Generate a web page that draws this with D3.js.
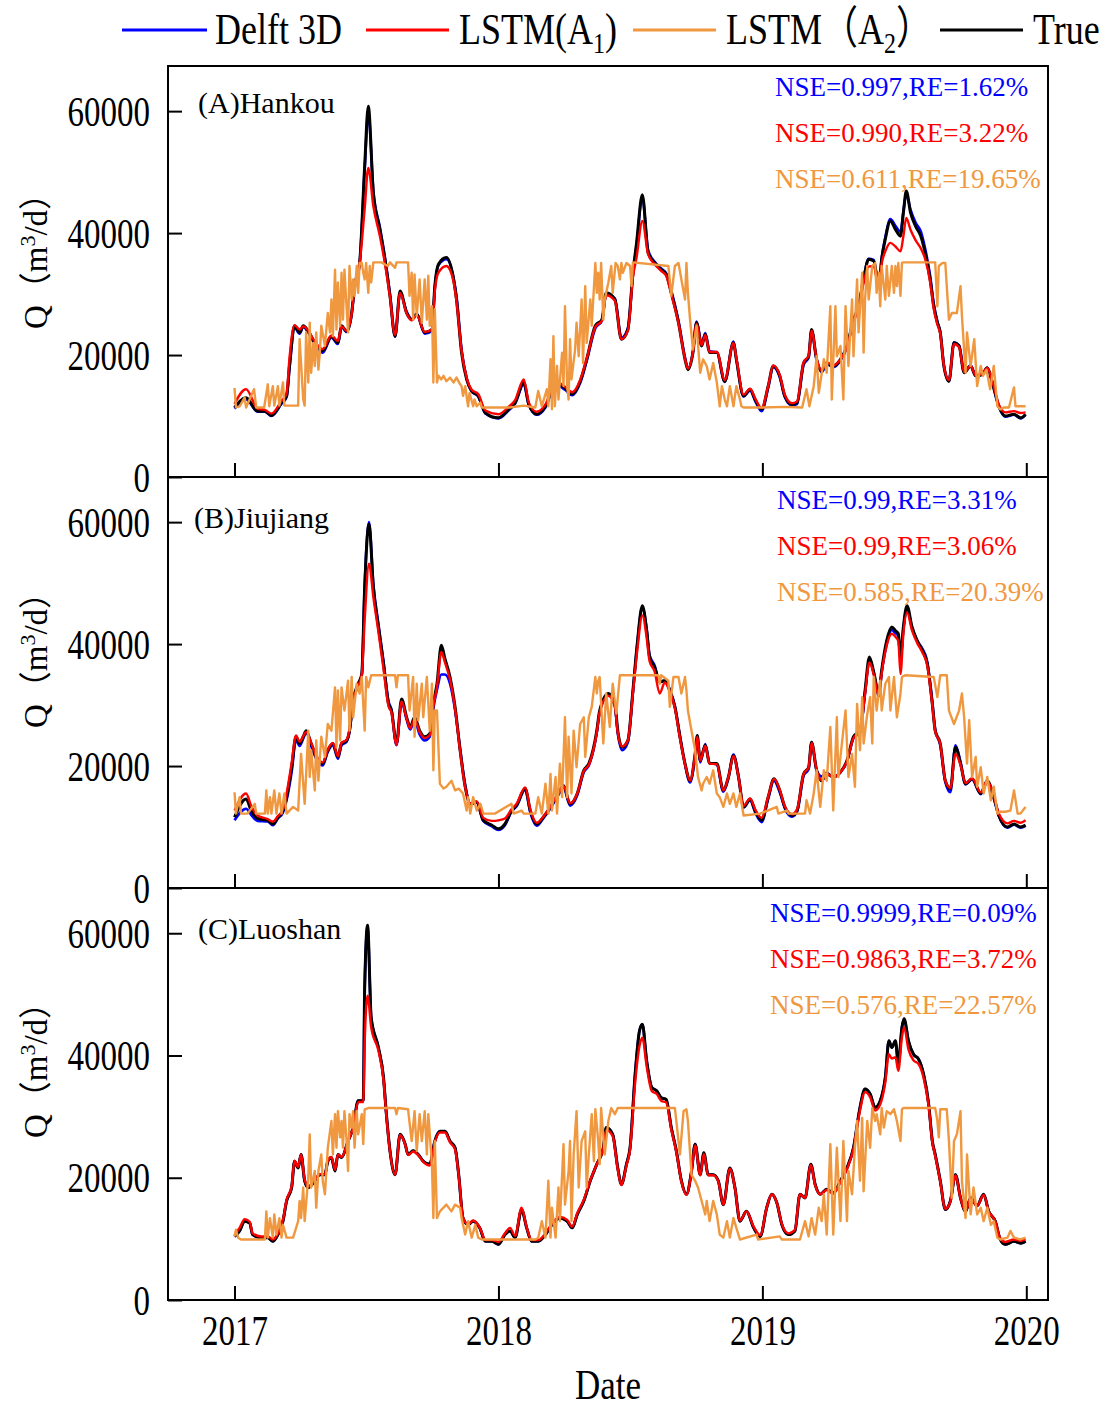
<!DOCTYPE html>
<html>
<head>
<meta charset="utf-8">
<script src="https://cdn.jsdelivr.net/npm/d3@7"></script>
<style>
  body { margin: 0; background: #fff; }
  svg { display: block; }
  text { font-family: "Liberation Serif", "Times New Roman", serif; fill: #000; }
  .cjk { font-family: "Liberation Serif", "Noto Sans CJK SC", serif; }
</style>
</head>
<body>
<svg id="chart" width="1112" height="1410"></svg>
<script>
// ---------------- data ----------------
// days are counted from 2017-01-01; discharge Q in m3/d
const years = [2017, 2018, 2019, 2020];
const yTicks = [0, 20000, 40000, 60000];
const legendNames = ["Delft 3D", "LSTM(A1)", "LSTM（A2）", "True"];

// Hankou
const hankouDays = [
  0,16,32,42,51,65,72,76,83,90,
  95,102,111,122,134,143,148,155,162,166,
  173,180,185,192,201,208,215,222,229,238,
  245,252,263,273,277,282,293,303,307,314,
  321,328,337,347,365,379,388,400,407,418,
  430,444,457,467,478,487,499,508,514,526,
  535,544,551,556,564,572,581,590,597,604,
  614,623,627,634,639,646,651,657,667,678,
  690,694,704,713,720,729,738,745,754,761,
  771,778,787,794,798,805,812,819,828,838,
  847,856,863,870,877,884,891,895,900,907,
  914,921,925,929,935,942,949,955,962,967,
  972,976,981,988,995,1002,1009,1018,1025,1034,
  1041,1048,1057,1066,1078,1087,1094];
const hankouTrue = [
  11400,13000,10800,10800,10100,12200,13300,18200,24800,23700,
  24800,23900,22000,20700,23100,22000,24800,23900,26900,31300,
  35100,51000,60800,46600,40600,35700,29700,23100,30500,26900,
  25800,26700,23700,24200,31300,34900,36000,32400,29100,20400,
  16000,14100,13300,10500,9700,11100,12200,15500,11900,10300,
  11600,15500,14600,13600,15700,19300,24800,25800,30200,29100,
  22600,24200,33500,38400,46300,36800,35100,34000,33200,30200,
  25300,19300,17600,20400,25300,21500,23400,20400,20400,15700,
  22000,19300,13300,14400,12700,11100,14900,18200,16600,13300,
  11900,12200,18700,19800,24200,19300,17400,18700,18200,19300,
  21500,25800,28000,32400,35700,35400,31300,35700,39000,42000,
  40600,39500,43300,46900,43300,41100,39500,36800,32400,28000,
  25300,23700,18200,15700,22000,21500,17100,18200,16600,16800,
  17900,15500,11600,10000,10300,9700,10300];
const hankouDelft = [
  11200,12700,10700,10700,10000,12000,13100,17800,24500,23500,
  24600,23700,21800,20400,22900,21800,24600,23800,26700,31000,
  35000,50500,59800,46900,41000,36000,30000,23000,30300,27100,
  25900,26800,23500,24000,31000,34700,35700,32600,29600,20900,
  16200,14000,13200,10400,9600,10900,12000,15200,11800,10200,
  11400,15200,14300,13400,15400,19000,24400,25600,30000,29300,
  22800,24400,33200,38000,45800,37200,35300,34200,33400,30600,
  25600,19600,17800,20600,25500,21800,23600,20600,20500,15600,
  22200,19400,13200,14200,12500,10800,14600,18000,16400,13100,
  11700,12000,18400,19600,24000,19200,17200,18500,18000,19100,
  21300,25600,28000,32600,35800,35600,31600,35900,39300,42300,
  41200,40200,43600,46400,43800,41700,40300,37500,33000,28400,
  25500,23800,18300,15700,22100,21600,17200,18300,16600,16800,
  17900,15400,11500,9900,10200,9600,10200];
const hankouA1 = [
  12000,14400,11200,11000,10400,12500,13700,19500,24900,24200,
  24700,24000,22200,21000,23200,22300,24700,24000,26800,31000,
  35000,44000,50700,44400,39500,35000,29500,23300,30200,26800,
  25700,26500,23800,24200,30500,33500,34600,32000,28800,20700,
  16300,14300,13600,10900,10300,11500,12600,16000,12200,10700,
  11900,15700,14800,13900,15900,19400,24600,25600,29800,28900,
  22600,24000,32800,36000,42000,36500,34900,33800,33000,30000,
  25200,19400,17800,20500,25100,21600,23300,20500,20500,15900,
  22000,19500,13500,14500,12900,11300,14900,18300,16700,13500,
  12100,12400,18800,19900,24000,19400,17500,18800,18300,19300,
  21300,25500,27600,31800,34500,34600,31000,35000,37000,38400,
  37800,37000,39500,42500,40500,38800,37500,35800,32000,27600,
  25000,23500,18300,15900,21800,21300,17200,18200,16700,16900,
  17900,15700,11900,10600,10800,10500,10600];
const hankouA2 = [
  [0,14600],[2,11400],[7,11600],[14,13000],[16,11400],[27,14400],[30,11400],[41,11400],[46,15200],[48,11600],
  [53,14900],[55,11700],[60,14900],[62,11700],[67,15500],[69,11700],[74,11700],[81,11700],[88,11700],[90,22600],
  [95,12700],[97,11700],[99,23700],[102,15500],[104,25300],[106,17100],[109,22000],[111,18200],[113,23700],[116,17600],
  [118,20400],[120,24800],[125,21500],[129,26900],[132,23700],[134,29100],[136,23100],[139,34000],[141,24200],[143,31900],
  [146,24800],[148,33500],[150,25800],[152,34000],[157,23700],[159,34600],[162,29100],[164,32400],[166,29700],[169,34600],
  [171,30200],[173,35100],[176,35100],[178,33500],[180,32400],[182,35100],[185,30200],[187,34600],[189,31900],[192,35200],
  [203,35200],[212,34600],[215,35200],[222,34300],[224,35200],[240,35200],[242,29700],[245,33500],[247,25800],[249,33200],
  [252,26400],[256,32400],[259,25300],[263,32400],[266,25800],[268,33000],[270,24800],[273,28000],[275,15500],[277,27500],
  [280,15500],[282,16600],[286,16000],[289,16600],[293,15700],[298,16300],[303,15500],[307,16300],[312,15200],[314,14900],
  [316,13300],[319,14900],[323,11600],[325,13800],[330,11600],[332,12700],[335,11600],[340,12200],[342,11400],[360,11400],
  [380,11400],[400,11700],[416,11400],[420,14100],[425,11600],[432,14400],[434,11600],[437,19300],[439,11100],[441,23100],
  [443,11600],[446,18200],[448,12700],[453,20400],[455,14900],[457,28000],[460,14900],[462,12700],[464,22600],[466,16000],
  [471,20900],[473,25300],[476,19800],[480,29100],[482,18700],[485,31300],[487,22000],[492,29100],[494,24800],[499,35100],
  [501,30200],[503,33500],[505,29100],[507,35100],[510,25800],[512,29100],[517,31900],[521,34600],[523,30200],[527,35100],
  [530,34600],[533,32400],[535,35100],[537,33500],[542,35100],[547,34600],[549,31300],[551,35200],[600,34600],[604,29700],
  [609,34600],[614,35100],[618,32400],[623,29100],[625,35100],[627,30200],[630,25800],[634,20900],[639,24800],[644,17100],
  [648,19300],[653,18200],[657,16000],[662,18700],[667,15500],[671,11600],[674,14900],[678,12700],[681,11600],[685,14900],
  [690,11600],[694,14900],[699,12700],[701,11600],[704,11400],[730,11400],[760,11500],[785,11400],[791,14400],[795,11600],
  [801,14900],[805,19800],[808,13800],[815,19300],[819,17100],[824,28000],[826,12700],[831,28000],[833,19800],[838,21500],
  [842,12700],[845,28000],[849,18200],[854,29100],[856,19800],[861,32400],[863,23700],[868,33500],[870,20400],[872,29100],
  [875,34600],[877,29100],[882,34600],[886,35100],[888,30200],[891,33500],[893,28000],[895,34600],[900,29100],[902,34600],
  [905,29700],[909,34600],[912,30200],[914,34600],[916,31300],[918,35100],[921,29700],[923,35100],[925,35200],[969,35200],
  [972,28000],[974,34600],[979,35100],[983,35100],[985,31300],[988,25800],[992,26900],[999,26900],[1004,31300],[1006,26400],
  [1011,17100],[1013,23700],[1018,18200],[1023,22600],[1027,14900],[1032,18200],[1035,16600],[1040,17600],[1045,14400],[1050,18200],
  [1055,11600],[1059,11100],[1064,11400],[1071,11400],[1078,14700],[1080,11600],[1087,11600],[1094,11600]];
const hankouScores = ["NSE=0.997,RE=1.62%", "NSE=0.990,RE=3.22%", "NSE=0.611,RE=19.65%"];

// Jiujiang
const jiujiangDays = [
  0,16,23,32,46,53,60,67,72,79,
  85,90,95,99,106,113,122,129,136,143,
  148,155,159,164,171,176,180,186,192,199,
  206,213,217,224,231,238,243,249,256,263,
  270,275,280,286,291,298,305,312,319,326,
  335,344,356,365,374,383,390,402,409,418,
  427,437,448,455,464,474,483,490,501,505,
  517,526,530,536,544,551,557,564,570,574,
  581,588,595,602,609,616,623,630,637,640,
  644,651,657,667,676,683,690,697,704,713,
  720,729,738,746,754,761,771,778,787,794,
  798,805,812,819,828,838,847,856,865,872,
  878,884,891,895,902,909,914,918,921,925,
  930,937,944,951,958,965,969,976,983,990,
  997,1004,1011,1020,1032,1041,1050,1057,1069,1078,
  1087,1094];
const jiujiangTrue = [
  11600,14600,12700,11400,11100,10500,11600,12700,14900,19800,
  24800,23700,24800,25800,23700,21500,20400,22600,23700,21500,
  23700,24200,25800,30800,33500,35100,49300,59700,49300,42800,
  36800,30200,29100,23700,31000,28000,26400,28000,25800,24800,
  25300,30200,33500,39800,37600,34600,29700,22600,16600,13800,
  14100,11100,10300,9700,10500,12700,13600,16300,12700,10500,
  11600,13300,15500,16800,13800,15500,19300,20400,25800,29100,
  31900,30200,25800,23100,24200,32400,40100,46300,42200,37900,
  36200,33800,34000,32400,29700,24800,20400,17600,22000,25000,
  20900,23400,20400,20400,16000,18200,21700,18200,13300,14600,
  12700,11100,14900,17900,16000,13300,11900,12700,18700,19800,
  23900,19300,17600,18700,18200,19000,20900,24800,25800,32400,
  37900,35400,31900,35700,40600,42800,42200,41700,37900,42800,
  46300,42800,40600,39000,36800,30200,25800,23700,17600,16300,
  23100,20400,17100,17900,15500,17600,14900,11900,10000,10500,
  10000,10300];
const jiujiangDelft = [
  11100,13000,12000,11000,10900,10300,11400,12400,14400,19000,
  24300,23300,24500,25500,23300,21200,20100,22300,23400,21200,
  23400,24000,25600,30500,33300,35000,49500,60000,49800,43300,
  37200,30600,29300,23400,30600,27600,26000,27500,25200,24200,
  24800,29500,32500,35000,35000,33500,29200,22800,16900,13800,
  14000,11000,10100,9500,10300,12500,13400,16100,12400,10200,
  11400,13100,15300,16500,13500,15200,19000,20100,25500,28800,
  31600,29800,25400,22600,23900,32200,40000,46000,42400,38200,
  36500,33800,34000,32500,29800,24900,20300,17300,21600,24500,
  20600,23600,20500,20300,15800,18000,21900,18300,13200,14400,
  12400,10800,14600,17600,15700,13100,11700,12500,18400,19500,
  23800,19300,18300,18900,18200,19000,20700,24600,25500,32000,
  37300,35300,31500,35400,40000,42300,41800,41300,37500,42500,
  46000,42600,40500,39300,37100,30500,26000,23400,17400,15700,
  23400,20700,17000,17800,15400,17400,14700,11800,9900,10400,
  9900,10200];
const jiujiangA1 = [
  12700,15500,13500,11900,11300,10900,11800,12900,15500,20500,
  25000,24000,24900,25600,23800,21700,20600,22700,23800,21600,
  23800,24300,26000,30500,33200,35000,44000,53200,47700,42000,
  36000,29800,28800,23500,30600,27800,26200,27700,25600,24600,
  25100,29800,33000,38700,37000,34200,29400,22400,16500,13900,
  14200,11500,11000,11100,11400,12900,13800,16500,12900,10700,
  11700,13400,15500,16700,13900,15500,19200,20200,25500,28800,
  31500,29800,25500,23200,24200,32000,39000,44700,41000,37200,
  35500,31900,33700,32200,29500,24600,20300,17600,22000,24800,
  20900,23300,20400,20300,16000,18200,21600,18200,13500,14700,
  12900,11500,15000,17900,16100,13400,12100,12900,18700,19800,
  23800,19300,17700,18700,18200,19000,20800,24600,25600,31800,
  37000,35000,31500,35200,39800,41700,41200,40500,35100,41700,
  45200,42200,40200,38700,36500,30000,25700,23600,17600,16400,
  22000,20200,17200,18000,15700,17600,15100,12200,10600,11000,
  10700,11100];
const jiujiangA2 = [
  [0,15700],[2,12200],[7,14900],[9,12200],[18,12200],[28,13800],[30,12200],[42,12200],[44,16000],[46,12200],
  [49,14900],[51,12200],[55,16000],[58,12200],[62,15500],[65,12200],[69,15500],[72,12200],[76,12700],[81,13300],
  [88,12700],[92,22000],[97,13800],[102,25800],[104,18200],[106,22600],[111,16000],[113,24200],[116,17600],[120,24800],
  [125,21500],[129,26900],[134,25800],[139,32900],[141,23100],[143,32400],[146,24200],[148,32900],[152,29100],[157,34000],
  [159,25800],[162,34600],[164,28000],[169,33500],[173,31900],[176,34600],[180,25800],[182,34600],[185,32900],[189,34900],
  [222,34900],[224,32900],[226,34900],[240,34900],[242,29100],[247,34600],[249,24800],[252,33500],[254,27500],[259,33500],
  [261,28000],[266,34600],[270,25800],[273,33500],[275,19300],[277,29100],[280,29100],[284,17100],[289,16300],[293,16600],
  [300,17600],[305,16000],[310,16300],[316,15500],[321,12700],[323,14900],[326,12200],[330,14900],[335,12700],[340,13800],
  [344,12200],[360,12200],[383,13800],[386,12200],[397,12700],[400,12200],[416,12200],[420,14900],[425,12200],[430,17100],
  [434,12200],[437,18700],[439,12700],[444,18200],[446,12200],[450,20400],[453,14900],[457,28000],[460,14900],[462,24800],
  [466,15500],[469,25800],[473,19800],[478,26900],[483,28000],[485,21500],[490,28000],[494,29700],[499,34600],[501,31900],
  [503,34000],[505,34600],[510,23700],[514,31900],[519,26400],[523,33500],[528,28600],[533,34900],[586,34900],[588,33500],
  [590,34900],[600,34000],[602,29700],[607,34600],[614,34600],[618,31900],[623,34600],[625,32400],[627,29100],[632,25800],
  [637,22600],[641,18200],[646,16000],[648,17100],[653,18200],[657,17100],[662,19300],[667,15500],[671,14900],[676,13300],
  [681,15500],[685,13800],[690,15500],[694,13300],[699,15500],[704,11900],[727,12200],[750,13300],[752,12200],[764,12700],
  [766,12200],[789,12200],[791,14400],[796,12200],[801,15500],[805,19300],[810,13300],[815,19300],[819,17600],[824,26400],
  [828,12700],[833,28000],[835,18200],[840,23700],[845,29100],[849,18200],[854,22000],[858,16600],[861,30200],[865,22600],
  [868,31300],[870,23700],[875,28500],[879,31300],[882,23700],[884,34600],[888,29100],[893,34000],[895,29100],[900,33500],
  [905,34600],[907,29100],[912,34600],[916,28000],[921,31900],[923,34600],[928,34900],[967,34600],[972,31300],[976,34900],
  [985,34900],[988,29100],[995,26900],[1002,29100],[1006,31900],[1009,28000],[1013,20400],[1016,27500],[1020,18200],[1025,21500],
  [1027,16600],[1032,19800],[1036,15500],[1041,18200],[1046,14400],[1050,16600],[1055,12200],[1059,12500],[1066,12500],[1073,12700],
  [1078,16000],[1083,12200],[1087,12200],[1092,13000],[1094,13300]];
const jiujiangScores = ["NSE=0.99,RE=3.31%", "NSE=0.99,RE=3.06%", "NSE=0.585,RE=20.39%"];

// Luoshan
const luoshanDays = [
  0,7,14,21,25,37,46,53,60,67,
  72,79,83,88,92,97,102,111,118,125,
  129,134,139,143,148,157,164,171,178,180,
  184,189,199,206,210,215,222,229,236,240,
  247,254,261,270,277,284,291,298,305,310,
  316,323,330,339,347,356,365,374,381,388,
  397,404,411,420,430,439,450,460,467,474,
  483,492,501,510,514,523,530,535,542,547,
  554,560,564,570,577,584,590,597,604,611,
  618,625,632,637,644,649,655,662,669,676,
  685,692,699,708,718,727,736,743,750,757,
  766,775,782,789,797,803,810,819,828,838,
  847,856,865,872,879,886,893,900,905,909,
  914,918,923,926,932,939,946,953,960,965,
  969,976,983,990,997,1004,1011,1018,1027,1036,
  1043,1052,1059,1066,1078,1087,1094];
const luoshanTrue = [
  10400,11300,12900,12600,10700,10200,10200,9600,10700,12900,
  16200,18400,22700,21600,23800,19500,18400,19500,20500,20500,
  22700,23300,21100,23800,23300,26000,28200,32600,32600,51100,
  61300,46200,41300,36400,30400,24400,20500,27100,25500,23800,
  24400,23800,22700,22200,26000,27600,27600,26000,24900,20500,
  13400,12300,12900,11800,9600,9600,9100,10700,11300,10200,
  14800,11800,9600,9600,10700,12300,13400,12900,11800,14000,
  16200,19500,22200,24900,28200,27100,21600,18900,22200,24900,
  36900,44000,45100,39100,34800,34200,33100,32800,28200,24400,
  19500,17300,21100,25500,20500,24100,20500,20500,19500,15600,
  21600,18400,12900,14500,11800,10400,15100,17300,15900,12300,
  10700,11300,17300,16700,22200,18900,17300,18100,17500,19500,
  21600,24900,31500,34500,33700,31500,32600,36400,42400,41300,
  42400,38600,44600,46000,42400,40200,39400,36900,32000,26000,
  23800,19500,14800,16200,20500,16700,14500,16700,15400,17300,
  14500,12900,9900,9100,9600,9300,9600];
const luoshanDelft = [
  10400,11300,12900,12600,10700,10200,10200,9600,10700,12900,
  16200,18400,22700,21600,23800,19500,18400,19500,20500,20500,
  22700,23300,21100,23800,23300,26000,28200,32600,32600,51000,
  61200,46200,41300,36400,30400,24400,20500,27100,25500,23800,
  24400,23800,22700,22200,26000,27600,27600,26000,24900,20500,
  13400,12300,12900,11800,9600,9600,9100,10700,11300,10200,
  14800,11800,9600,9600,10700,12300,13400,12900,11800,14000,
  16200,19500,22200,24900,28200,27100,21600,18900,22200,24900,
  36900,44000,45100,39100,34800,34200,33100,32800,28200,24400,
  19500,17300,21100,25500,20500,24100,20500,20500,19500,15600,
  21600,18400,12900,14500,11800,10400,15100,17300,15900,12300,
  10700,11300,17300,16700,22200,18900,17300,18100,17500,19500,
  21600,24900,31500,34500,33700,31500,32600,36400,42400,41300,
  42400,38600,44600,46000,42400,40200,39400,36900,32000,26000,
  23800,19500,14800,16200,20500,16700,14500,16700,15400,17300,
  14500,12900,9900,9100,9600,9300,9600];
const luoshanA1 = [
  10600,11800,13200,12800,10900,10400,10400,9900,10900,13100,
  16400,18600,22800,21800,23800,19700,18600,19700,20600,20600,
  22800,23400,21300,23800,23400,26000,28200,32400,32400,42000,
  49800,44600,40800,36000,30200,24300,20500,27000,25400,23700,
  24300,23700,22600,22000,25800,27400,27400,25800,24600,20400,
  13500,12400,13000,11900,9800,9800,9500,10900,11800,10500,
  15100,11900,9800,9800,10900,12500,13600,13100,12000,14200,
  16400,19600,22200,24800,27800,26800,21400,18800,22000,24600,
  35500,41500,42900,38200,34200,33700,32600,32300,27900,24200,
  19400,17200,21000,25300,20400,23900,20400,20400,19400,15600,
  21500,18400,13000,14500,12000,10600,15100,17300,15900,12400,
  10900,11500,17300,16700,22100,18800,17300,18000,17400,19300,
  21400,24700,31000,34000,33200,31000,32000,35600,40200,39500,
  39700,37500,43000,44600,41000,39200,38600,36300,31700,25800,
  23600,19400,14900,16100,20400,16700,14500,16600,15400,17200,
  14500,12900,10100,9500,9900,9700,9900];
const luoshanA2 = [
  [0,10400],[2,11500],[5,10200],[9,9900],[42,9900],[44,14500],[46,10200],[49,13400],[53,10200],[55,14000],
  [58,10700],[62,13400],[65,10200],[67,12300],[72,10200],[81,10200],[88,12900],[90,16200],[92,13400],[95,18400],
  [97,12900],[102,20000],[104,27100],[106,18400],[111,21100],[113,15100],[116,21100],[120,23800],[122,19500],[125,17300],
  [129,24900],[134,29300],[136,23800],[139,30400],[141,24900],[143,30900],[146,26600],[148,29300],[150,24900],[152,30900],
  [155,26000],[157,21100],[159,30400],[162,28200],[164,30900],[166,24900],[169,30900],[171,27100],[176,30400],[178,25500],
  [180,31200],[185,31400],[222,31400],[224,30400],[226,31400],[240,31200],[245,26000],[249,30900],[252,24400],[256,30400],
  [259,26000],[263,30900],[266,23800],[268,30400],[273,22200],[275,13400],[277,26000],[280,13400],[284,14500],[289,15100],
  [293,15600],[300,14500],[305,15600],[312,15100],[314,13400],[319,10700],[323,12900],[328,10200],[333,12300],[337,10200],
  [342,9900],[416,9900],[420,10200],[425,12900],[430,10200],[434,19500],[437,10200],[439,15100],[444,10200],[448,18400],
  [450,12900],[455,25500],[457,15600],[462,21100],[464,26000],[466,12900],[469,23800],[473,30900],[476,18400],[480,26000],
  [485,27600],[487,18400],[490,23800],[494,30400],[497,22700],[499,31200],[503,26000],[505,22200],[507,31400],[512,23800],
  [517,29300],[521,31400],[526,30400],[530,31400],[609,31400],[611,29300],[616,23800],[621,30900],[625,31200],[627,29300],
  [632,20500],[637,19500],[641,18400],[646,16200],[651,14000],[653,16200],[657,12900],[662,16200],[667,14000],[671,10700],
  [676,10200],[681,12900],[685,10200],[690,13400],[694,11800],[699,9900],[722,10700],[724,9900],[754,10400],[757,9900],
  [782,9900],[789,12900],[794,10400],[798,13400],[803,10700],[808,15100],[812,12900],[815,17300],[819,10700],[824,25500],
  [828,10700],[833,24900],[838,12900],[842,26000],[847,12900],[849,21100],[854,17300],[858,24900],[861,29300],[865,19500],
  [868,29800],[870,17800],[875,29300],[879,24900],[882,31400],[886,29300],[888,30400],[893,27100],[895,31400],[898,28200],
  [902,30900],[907,30400],[912,31200],[916,29300],[921,26000],[923,31200],[925,31400],[969,31400],[972,29300],[974,26600],
  [976,31200],[985,31200],[988,26000],[992,16700],[995,26000],[999,27100],[1004,30900],[1006,19500],[1011,13400],[1013,23800],
  [1018,14000],[1022,18400],[1027,14000],[1032,15100],[1036,12900],[1041,15100],[1046,12300],[1050,12900],[1055,10200],[1059,9900],
  [1069,10200],[1073,11300],[1078,10200],[1087,9900],[1094,10200]];
const luoshanScores = ["NSE=0.9999,RE=0.09%", "NSE=0.9863,RE=3.72%", "NSE=0.576,RE=22.57%"];

// ---------------- layout & style ----------------
const colors = { delft: "#0000ff", a1: "#ff0000", a2: "#f0983f", obs: "#000000" };
const plotLeft = 168, plotRight = 1048;
const yMax = 67400;
const TALL = 1.25; // vertical stretch of the horizontal axis/legend lettering

const panels = [
  { name: "(A)Hankou", top: 66, bottom: 477, days: hankouDays, obs: hankouTrue, delft: hankouDelft, a1: hankouA1, a2: hankouA2,
    scores: hankouScores, labelX: 198, labelY: 113, scoreX: 775, scoreY: [96, 142, 188], titleY: 253 },
  { name: "(B)Jiujiang", top: 477, bottom: 888, days: jiujiangDays, obs: jiujiangTrue, delft: jiujiangDelft, a1: jiujiangA1, a2: jiujiangA2,
    scores: jiujiangScores, labelX: 194, labelY: 528, scoreX: 777, scoreY: [509, 555, 601], titleY: 652 },
  { name: "(C)Luoshan", top: 888, bottom: 1300, days: luoshanDays, obs: luoshanTrue, delft: luoshanDelft, a1: luoshanA1, a2: luoshanA2,
    scores: luoshanScores, labelX: 198, labelY: 939, scoreX: 770, scoreY: [922, 968, 1014], titleY: 1062 }
];

const svg = d3.select("#chart");
const origin = Date.UTC(2017, 0, 1);
const dayToDate = d => new Date(origin + d * 86400000);

const x = d3.scaleUtc()
  .domain([new Date(Date.UTC(2016, 9, 1)), new Date(Date.UTC(2020, 0, 31))])
  .range([plotLeft, plotRight]);
const yearDates = years.map(yr => new Date(Date.UTC(yr, 0, 1)));

panels.forEach((p, i) => {
  const y = d3.scaleLinear().domain([0, yMax]).range([p.bottom, p.top]);
  const g = svg.append("g");

  // smooth simulated / observed series share one set of days
  const smooth = d3.line()
    .x((d, k) => x(dayToDate(p.days[k])))
    .y(d => y(d))
    .curve(d3.curveMonotoneX);
  const jagged = d3.line()
    .x(d => x(dayToDate(d[0])))
    .y(d => y(d[1]));

  g.append("path").datum(p.delft).attr("d", smooth)
    .attr("fill", "none").attr("stroke", colors.delft).attr("stroke-width", 2.6);
  g.append("path").datum(p.obs).attr("d", smooth)
    .attr("fill", "none").attr("stroke", colors.obs).attr("stroke-width", 3);
  g.append("path").datum(p.a1).attr("d", smooth)
    .attr("fill", "none").attr("stroke", colors.a1).attr("stroke-width", 2.4);
  g.append("path").datum(p.a2).attr("d", jagged)
    .attr("fill", "none").attr("stroke", colors.a2).attr("stroke-width", 2.4)
    .attr("stroke-linejoin", "round");

  // left axis with inward ticks
  const yAxis = g.append("g").attr("transform", `translate(${plotLeft},0)`)
    .call(d3.axisLeft(y).tickValues(yTicks).tickSizeInner(-14).tickSizeOuter(0).tickPadding(18).tickFormat(d3.format("d")));
  yAxis.select(".domain").remove();
  yAxis.selectAll(".tick line").attr("stroke", "#000").attr("stroke-width", 2);
  yAxis.selectAll(".tick text")
    .attr("font-family", "Liberation Serif, serif").attr("font-size", 33).attr("fill", "#000")
    .attr("dy", null).attr("y", 0)
    .attr("transform", `translate(0,${0.34 * 33 * TALL}) scale(1,${TALL})`);

  // bottom axis with inward ticks
  const xAxis = g.append("g").attr("transform", `translate(0,${p.bottom})`)
    .call(d3.axisBottom(x).tickValues(yearDates).tickSizeInner(-14).tickSizeOuter(0)
      .tickFormat(i === panels.length - 1 ? d3.utcFormat("%Y") : () => ""));
  xAxis.select(".domain").remove();
  xAxis.selectAll(".tick line").attr("stroke", "#000").attr("stroke-width", 2);
  xAxis.selectAll(".tick text")
    .attr("font-family", "Liberation Serif, serif").attr("font-size", 33).attr("fill", "#000")
    .attr("dy", null).attr("y", 0)
    .attr("transform", `translate(0,45) scale(1,${TALL})`);

  // frame
  g.append("rect").attr("x", plotLeft).attr("y", p.top)
    .attr("width", plotRight - plotLeft).attr("height", p.bottom - p.top)
    .attr("fill", "none").attr("stroke", "#000").attr("stroke-width", 2);

  // panel name
  g.append("text").attr("x", p.labelX).attr("y", p.labelY)
    .attr("font-size", 30).text(p.name);

  // goodness-of-fit notes
  const scoreColors = [colors.delft, colors.a1, colors.a2];
  p.scores.forEach((s, k) => {
    g.append("text").attr("x", p.scoreX).attr("y", p.scoreY[k])
      .attr("font-size", 27).style("fill", scoreColors[k]).text(s);
  });

  // y title
  const t = g.append("text").attr("class", "cjk")
    .attr("transform", `translate(47,${p.titleY}) rotate(-90)`)
    .attr("text-anchor", "middle").attr("font-size", 33);
  t.append("tspan").text("Q（m");
  t.append("tspan").attr("font-size", 22).attr("dy", -12).text("3");
  t.append("tspan").attr("dy", 12).text("/d）");
});

// x title
svg.append("text")
  .attr("transform", `translate(608,1399) scale(1,1.2)`)
  .attr("text-anchor", "middle").attr("font-size", 35).text("Date");

// legend
const legend = [
  { key: "delft", x1: 122, x2: 207, tx: 215 },
  { key: "a1", x1: 366, x2: 449, tx: 459 },
  { key: "a2", x1: 633, x2: 716, tx: 726 },
  { key: "obs", x1: 940, x2: 1023, tx: 1033 }
];
const lg = svg.append("g");
legend.forEach((L, k) => {
  lg.append("line").attr("x1", L.x1).attr("x2", L.x2).attr("y1", 30).attr("y2", 30)
    .attr("stroke", colors[L.key]).attr("stroke-width", 3);
  const txt = lg.append("text").attr("class", "cjk")
    .attr("transform", `translate(${L.tx},44) scale(1,${TALL})`)
    .attr("font-size", 36);
  const name = legendNames[k];
  const m = name.match(/^(.*A)(\d)(.*)$/);
  if (m) {
    txt.append("tspan").text(m[1]);
    txt.append("tspan").attr("font-size", 24).attr("dy", 7).text(m[2]);
    txt.append("tspan").attr("dy", -7).text(m[3]);
  } else {
    txt.text(name);
  }
});
</script>
</body>
</html>
